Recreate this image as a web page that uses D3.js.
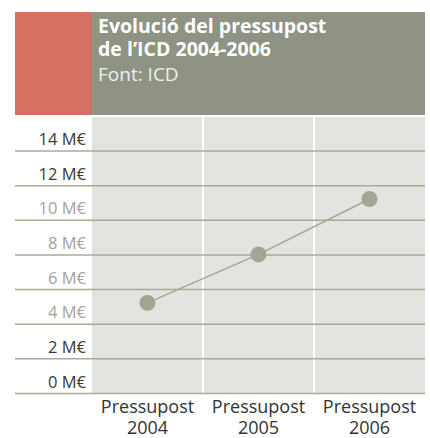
<!DOCTYPE html>
<html>
<head>
<meta charset="utf-8">
<script src="https://cdnjs.cloudflare.com/ajax/libs/d3/7.8.5/d3.min.js"></script>
<style>
  body { margin: 0; background: #fff; }
  svg { display: block; font-family: "Open Sans", "Noto Sans", sans-serif; }
</style>
</head>
<body>
<div class="canvas"></div>
<script>
// Data
const years = ['2004', '2005', '2006'];
const budget = [5.2, 8.0, 11.2];       // M€
const yTicks = [0, 2, 4, 6, 8, 10, 12, 14];
const titleLines = ['Evolució del pressupost', 'de l\u2019ICD 2004-2006'];
const source = 'Font: ICD';

const svg = d3.select('.canvas')
    .append('svg')
    .attr('width', 430)
    .attr('height', 438);

// plot area
const plotLeft = 92, plotRight = 425, plotTop = 117, plotBottom = 393;

const x = d3.scaleBand()
    .domain(years)
    .range([plotLeft, plotRight]);

const y = d3.scaleLinear()
    .domain([0, 14])
    .range([plotBottom, 150.5]);

// header boxes
svg.append('rect')
    .attr('x', 15).attr('y', 12)
    .attr('width', plotLeft - 15).attr('height', 103)
    .attr('fill', '#d3705f');
svg.append('rect')
    .attr('x', plotLeft).attr('y', 12)
    .attr('width', plotRight - plotLeft).attr('height', 103)
    .attr('fill', '#8f9384');

const title = svg.append('text')
    .attr('fill', '#fff');
title.selectAll('tspan.t')
    .data(titleLines)
    .enter()
    .append('tspan')
    .attr('x', 98)
    .attr('y', (d, i) => 33 + i * 23)
    .attr('font-size', 19.5)
    .attr('font-weight', 'bold')
    .text(d => d);
title.append('tspan')
    .attr('x', 98)
    .attr('y', 81)
    .attr('font-size', 19)
    .attr('fill', '#eef0ea')
    .text(source);

// background and column separators
svg.append('rect')
    .attr('x', plotLeft).attr('y', plotTop)
    .attr('width', plotRight - plotLeft).attr('height', plotBottom - plotTop)
    .attr('fill', '#e1e4df');

svg.selectAll('line.sep')
    .data(years.slice(1))
    .enter()
    .append('line')
    .attr('class', 'sep')
    .attr('x1', d => x(d)).attr('x2', d => x(d))
    .attr('y1', plotTop).attr('y2', plotBottom)
    .attr('stroke', '#fff')
    .attr('stroke-width', 2);

// y axis with gridlines
const yAxis = d3.axisLeft(y)
    .tickValues(yTicks)
    .tickSize(plotRight - 15)
    .tickFormat(d => d + ' M\u20ac');

const yAxisGroup = svg.append('g')
    .attr('transform', `translate(${plotRight}, 0)`)
    .call(yAxis);

yAxisGroup.select('.domain').remove();
yAxisGroup.selectAll('line')
    .attr('stroke', '#a8ab98')
    .attr('stroke-width', 1.5);
yAxisGroup.selectAll('text')
    .attr('x', -(plotRight - 86))
    .attr('dy', -6)
    .attr('text-anchor', 'end')
    .attr('font-size', 16.5)
    .attr('font-family', '"Open Sans", sans-serif')
    .attr('fill', d => (d >= 4 && d <= 10) ? '#a2a2a2' : '#3a3a3a');

// x axis labels
const xAxisGroup = svg.append('g')
    .attr('transform', `translate(0, ${plotBottom})`)
    .call(d3.axisBottom(x).tickSize(0).tickFormat(''));
xAxisGroup.select('.domain').remove();

xAxisGroup.selectAll('.tick text').each(function(d) {
    const t = d3.select(this)
        .attr('y', 0)
        .attr('font-size', 18)
        .attr('font-family', '"Open Sans", sans-serif')
        .attr('fill', '#333');
    t.append('tspan').attr('x', 0).attr('dy', 20).text('Pressupost');
    t.append('tspan').attr('x', 0).attr('dy', 20.5).text(d);
});

// line and points
const line = d3.line()
    .x((d, i) => x(years[i]) + x.bandwidth() / 2)
    .y(d => y(d));

svg.append('path')
    .datum(budget)
    .attr('d', line)
    .attr('fill', 'none')
    .attr('stroke', '#a4a693')
    .attr('stroke-width', 1.5);

svg.selectAll('circle')
    .data(budget)
    .enter()
    .append('circle')
    .attr('cx', (d, i) => x(years[i]) + x.bandwidth() / 2)
    .attr('cy', d => y(d))
    .attr('r', 8)
    .attr('fill', '#a4a693');
</script>
</body>
</html>
